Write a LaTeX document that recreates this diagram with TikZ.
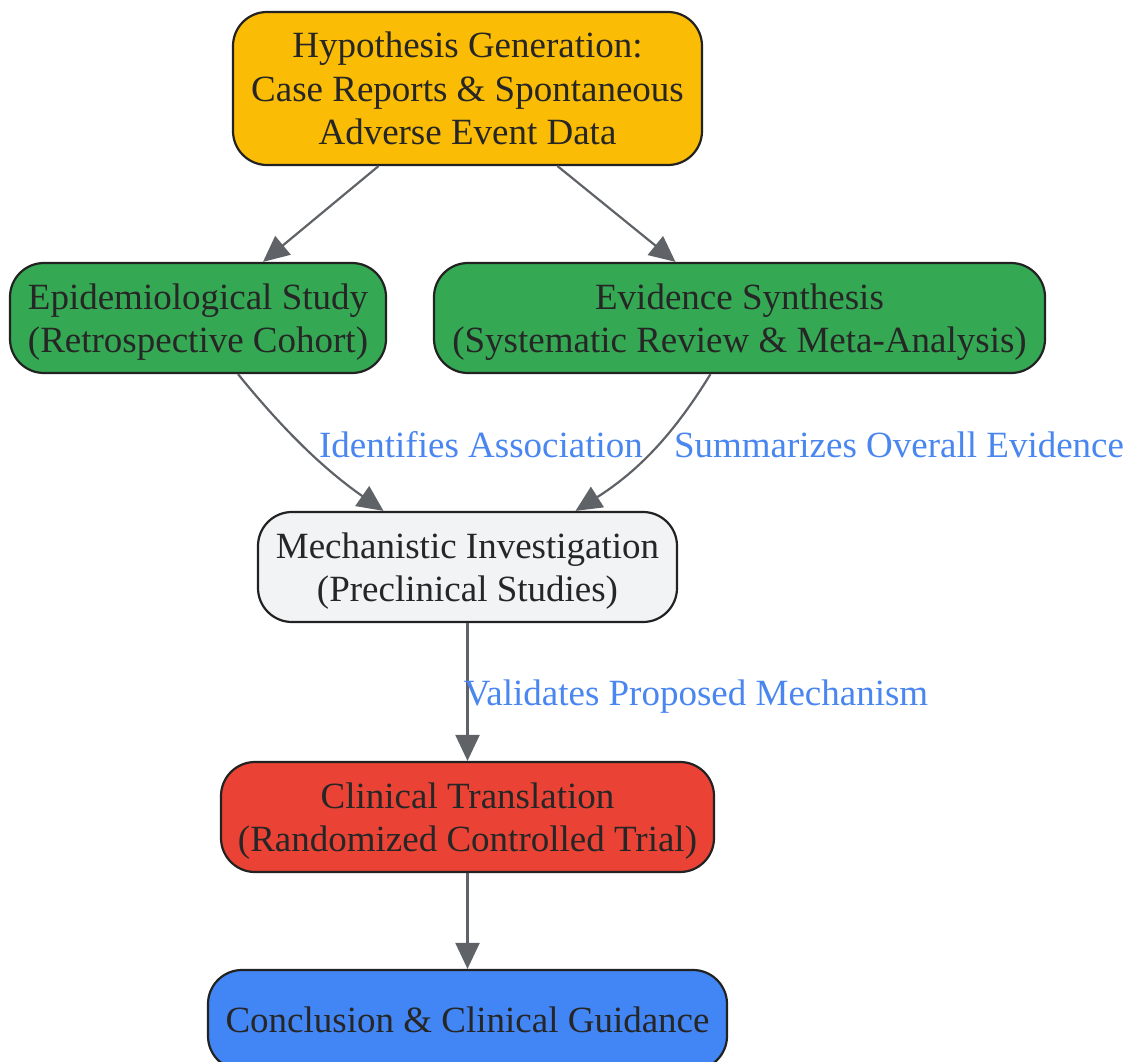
\documentclass[tikz,border=0pt]{standalone}
\usepackage{fontspec}
\setmainfont{Liberation Serif}
\usetikzlibrary{calc}
\usetikzlibrary{arrows.meta}

\definecolor{hypoYellow}{HTML}{FBBC05}
\definecolor{studyGreen}{HTML}{34A853}
\definecolor{mechGray}{HTML}{F1F3F4}
\definecolor{trialRed}{HTML}{EA4335}
\definecolor{guideBlue}{HTML}{4285F4}
\definecolor{edgeGray}{HTML}{5F6368}
\definecolor{labelBlue}{HTML}{4A86F0}
\definecolor{boxLine}{HTML}{222222}

\tikzset{
  stage/.style={draw=boxLine, line width=2.2pt, rounded corners=34pt,
    align=center, inner sep=0pt, text=black!85, text depth=0pt,
    font=\fontsize{37}{43.5}\selectfont},
  edge/.style={draw=edgeGray, line width=2.2pt,
    -{Triangle[length=26pt,width=24pt]}},
  edgelabel/.style={text=labelBlue, font=\fontsize{37}{43}\selectfont}
}

\begin{document}
\begin{tikzpicture}[x=1pt,y=-1pt]
    \useasboundingbox (0,0) rectangle (1127,1062);

    \node[stage, fill=hypoYellow, minimum width=469pt, minimum height=153pt] (hypo) at (467.5, 88.5)
      {Hypothesis Generation:\\Case Reports \& Spontaneous\\Adverse Event Data};
    \node[stage, fill=studyGreen, minimum width=376pt, minimum height=110pt] (epi) at (198, 318)
      {Epidemiological Study\\(Retrospective Cohort)};
    \node[stage, fill=studyGreen, minimum width=611pt, minimum height=110pt] (synth) at (739.5, 318)
      {Evidence Synthesis\\(Systematic Review \& Meta-Analysis)};
    \node[stage, fill=mechGray, minimum width=419pt, minimum height=110pt] (mech) at (467.5, 567)
      {Mechanistic Investigation\\(Preclinical Studies)};
    \node[stage, fill=trialRed, minimum width=493pt, minimum height=110pt] (rct) at (467.5, 817)
      {Clinical Translation\\(Randomized Controlled Trial)};
    \node[stage, fill=guideBlue, minimum width=519pt, minimum height=100pt] (guide) at (467.5, 1020)
      {Conclusion \& Clinical Guidance};

    % connectors
    \draw[edge] ($(hypo.south)+(-89,0)$) -- ($(epi.north)+(65,0)$);
    \draw[edge] ($(hypo.south)+(90,0)$) -- ($(synth.north)+(-64,0)$);
    \draw[edge] ($(epi.south)+(40,0)$) .. controls (285,432) and (325,470) .. ($(mech.north)+(-84,0)$);
    \draw[edge] ($(synth.south)+(-29,0)$) .. controls (675,432) and (640,470) .. ($(mech.north)+(108,0)$);
    \draw[edge] (mech.south) -- (rct.north);
    \draw[edge] (rct.south) -- (guide.north);

    % labels
    \node[edgelabel] (lblassoc) at (481, 445) {Identifies Association};
    \node[edgelabel] (lblsumm) at (899, 445) {Summarizes Overall Evidence};
    \node[edgelabel] (lblvalid) at (696, 697) {Validates Proposed Mechanism};
\end{tikzpicture}
\end{document}
